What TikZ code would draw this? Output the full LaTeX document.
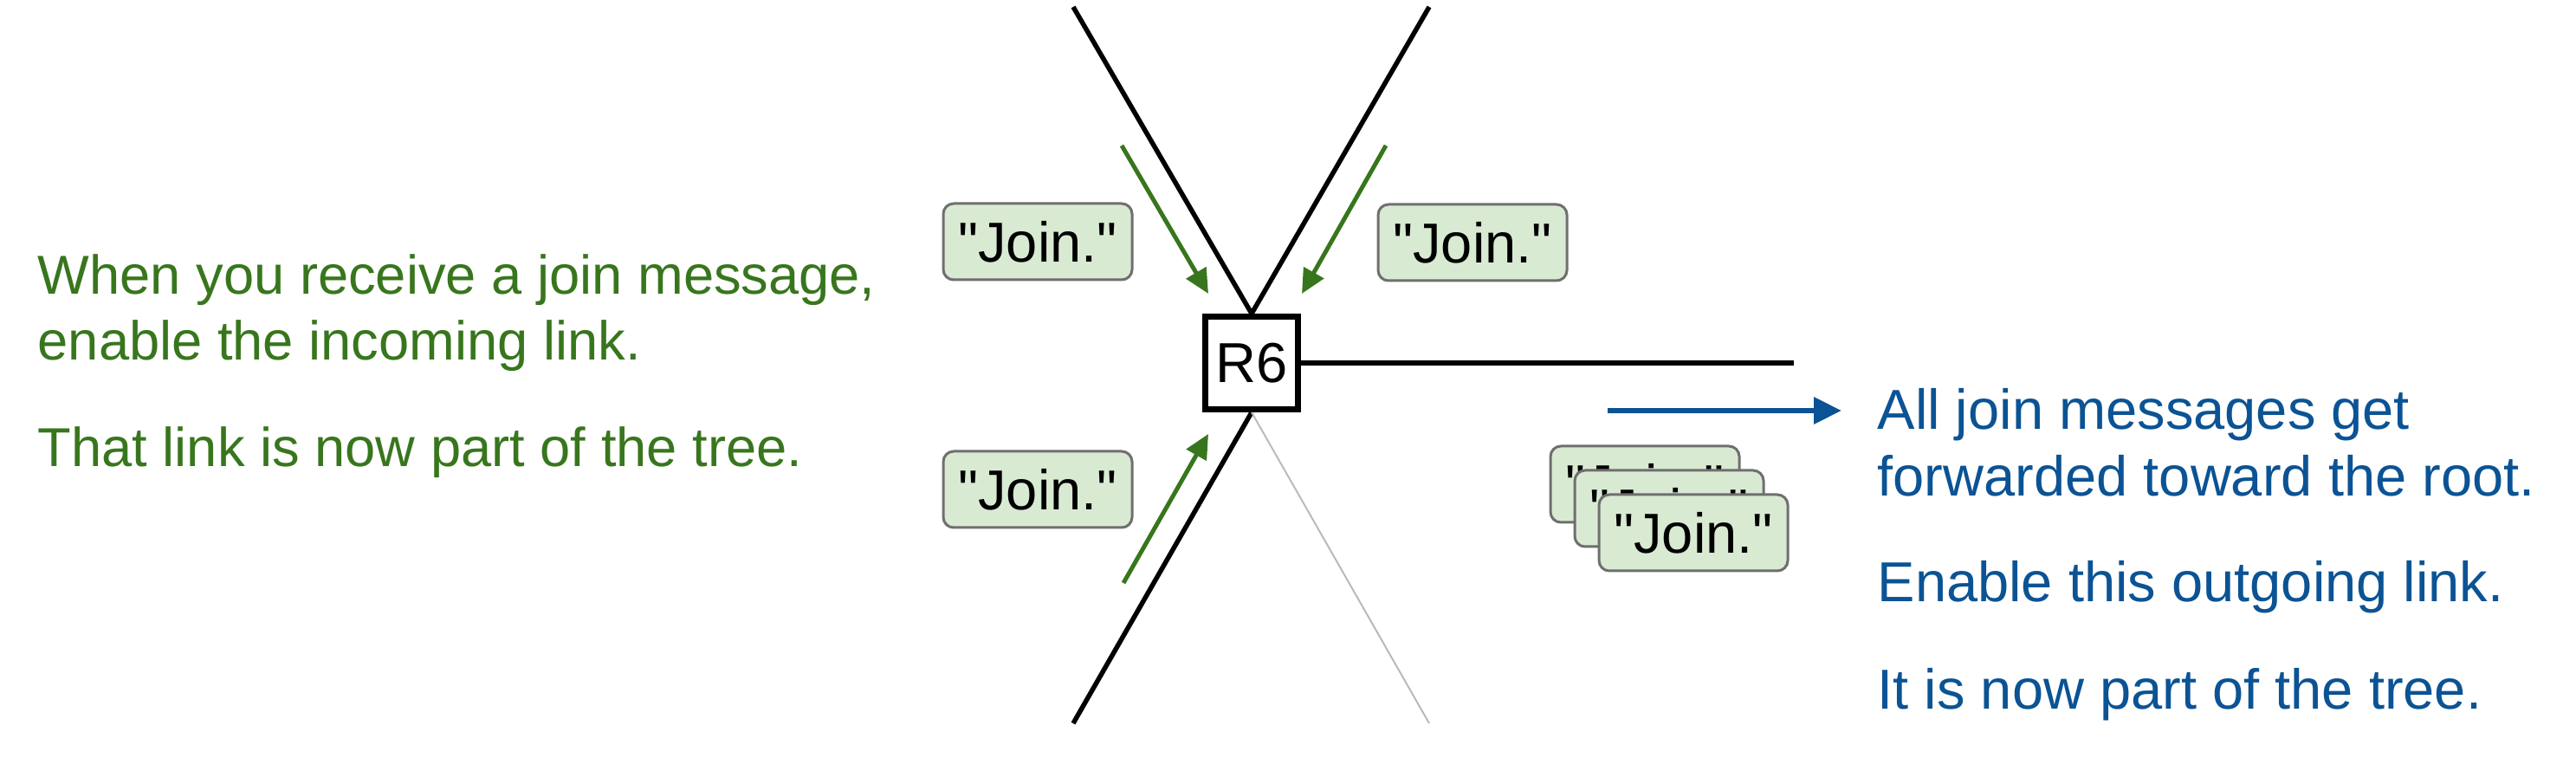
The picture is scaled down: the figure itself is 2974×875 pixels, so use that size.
\documentclass[tikz,border=0pt]{standalone}
\usepackage{fontspec}
\newfontfamily\slidefont{Liberation Sans}
\usetikzlibrary{arrows.meta,positioning}
\definecolor{joingreen}{HTML}{38761D}
\definecolor{fwdblue}{HTML}{0B5394}
\definecolor{msgfill}{HTML}{D9EAD3}
\definecolor{msgline}{HTML}{6F6F6F}
\tikzset{
    msg/.style={draw=msgline,fill=msgfill,line width=0.3mm,rounded corners=1.2mm,
        minimum width=21.8mm,minimum height=8.8mm,inner sep=0pt},
    router/.style={draw,fill=white,line width=0.7mm,minimum size=10.7mm,inner sep=0pt},
    link/.style={line width=0.55mm},
    joinarrow/.style={joingreen,line width=0.5mm,-{Triangle[length=2.8mm,width=2.6mm]}},
    note/.style={anchor=base west,inner sep=0pt},
}
\begin{document}
\begin{tikzpicture}[x=0.1mm,y=-0.1mm,font=\slidefont\fontsize{18.5}{22}\selectfont]
        \useasboundingbox (0,0) rectangle (2974,875);
        %% Router
        \node[router] (r6) at (1445,419) {R6};
        \coordinate (tl) at (1239,8);
        \coordinate (tr) at (1650,8);
        \coordinate (bl) at (1239,835);
        \coordinate (br) at (1650,835);
        \coordinate (up) at (2071,419);
        %% Links
        \draw[link] (tl) -- (r6.north);
        \draw[link] (tr) -- (r6.north);
        \draw[link] (bl) -- (r6.south);
        \draw[black!27,line width=0.2mm] (br) -- (r6.south);
        \draw[link] (r6.east) -- (up);
        %% Incoming joins
        \coordinate (a1) at (1295,168);
        \coordinate (b1) at (1395,339);
        \coordinate (a2) at (1600,168);
        \coordinate (b2) at (1503,339);
        \coordinate (a3) at (1297,673);
        \coordinate (b3) at (1395,501);
        \draw[joinarrow] (a1) -- (b1);
        \draw[joinarrow] (a2) -- (b2);
        \draw[joinarrow] (a3) -- (b3);
        \node[msg] (join1) at (1198,279) {"Join."};
        \node[msg] (join2) at (1700,280) {"Join."};
        \node[msg] (join3) at (1198,565) {"Join."};
        %% Forwarded joins
        \node[msg] (fwd1) at (1899,559) {"Join."};
        \node[msg] (fwd2) at ([shift={(28,28)}]fwd1) {"Join."};
        \node[msg] (fwd3) at ([shift={(28,28)}]fwd2) {"Join."};
        \coordinate (f0) at (1856,474);
        \coordinate (f1) at (2126,474);
        \draw[fwdblue,line width=0.65mm,-{Triangle[length=3.2mm,width=3mm]}] (f0) -- (f1);
        %% Notes
        \begin{scope}[every node/.style={note,joingreen,font=\slidefont\fontsize{18}{22}\selectfont}]
            \node (g1) at (43,340) {When you receive a join message,};
            \node (g2) at (43,416) {enable the incoming link.};
            \node (g3) at (43,539) {That link is now part of the tree.};
        \end{scope}
        \node[note,fwdblue] (b1t) at (2167,496) {All join messages get};
        \node[note,fwdblue] (b2t) at (2167,573) {forwarded toward the root.};
        \node[note,fwdblue] (b3t) at (2167,695) {Enable this outgoing link.};
        \node[note,fwdblue] (b4t) at (2167,818) {It is now part of the tree.};
    \end{tikzpicture}
\end{document}
